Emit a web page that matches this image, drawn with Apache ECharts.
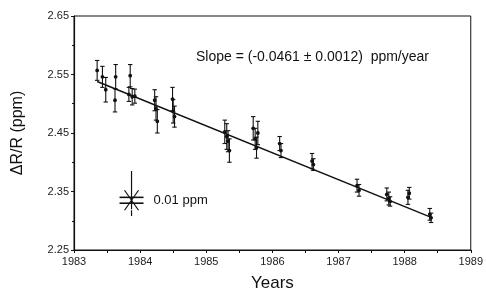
<!DOCTYPE html>
<html><head><meta charset="utf-8">
<script src="https://cdn.jsdelivr.net/npm/echarts@6/dist/echarts.min.js"></script>
<style>html,body{margin:0;padding:0;background:#fff}#c{width:486px;height:297px}</style>
</head><body><div id="c"></div>
<script>
// Measurement epochs (years), values (ppm), and 1-sigma errors (ppm)
var years  = [1983.35,1983.43,1983.48,1983.63,1983.62,1983.85,1983.83,1983.88,1983.92,
              1984.22,1984.24,1984.26,1984.49,1984.50,1984.52,
              1985.28,1985.31,1985.33,1985.35,1985.71,1985.74,1985.78,1985.76,
              1986.11,1986.13,1986.60,1986.62,
              1987.28,1987.31,1987.73,1987.76,1987.78,1988.05,1988.07,1988.38,1988.40];
var values = [2.557,2.546,2.524,2.546,2.506,2.548,2.516,2.512,2.513,
              2.506,2.492,2.470,2.508,2.487,2.478,
              2.452,2.444,2.436,2.420,2.458,2.440,2.450,2.425,
              2.432,2.420,2.402,2.396,
              2.360,2.352,2.345,2.338,2.333,2.340,2.347,2.311,2.305];
var errors = [0.017,0.018,0.021,0.021,0.020,0.019,0.012,0.014,0.012,
              0.018,0.020,0.020,0.020,0.020,0.018,
              0.020,0.022,0.018,0.020,0.020,0.018,0.020,0.018,
              0.012,0.012,0.013,0.010,
              0.011,0.010,0.011,0.011,0.008,0.012,0.010,0.010,0.008];
// Fitted line endpoints
var fitYears  = [1983.35, 1988.42];
var fitValues = [2.538, 2.305];
// Axis ticks
var xTicks = [1983,1984,1985,1986,1987,1988,1989];
var yTicks = [2.25,2.35,2.45,2.55,2.65];
// Scale-bar annotation (0.01 ppm)
var scaleBarYear = 1983.87, scaleBarValue = 2.335, scaleBarSize = 0.01;
var slopeText = 'Slope = (-0.0461 \u00b1 0.0012)  ppm/year';
var scaleText = '0.01 ppm';

var chart = echarts.init(document.getElementById('c'), null, {renderer:'canvas'});
var font = 'Liberation Sans, Arial, Helvetica, sans-serif';

var errData = years.map(function(y,i){return [y, values[i], errors[i]];});
var fitData = fitYears.map(function(y,i){return [y, fitValues[i]];});

chart.setOption({
  animation:false,
  backgroundColor:'#fff',
  grid:{left:74,right:14,top:16,bottom:45,show:true,borderColor:'#111',borderWidth:1,backgroundColor:'transparent'},
  xAxis:{type:'value',min:xTicks[0],max:xTicks[xTicks.length-1],interval:1,
    name:'Years',nameLocation:'middle',nameGap:25,
    nameTextStyle:{fontFamily:font,fontSize:17,color:'#111'},
    axisLine:{show:true,lineStyle:{color:'#111',width:1.2}},
    axisTick:{show:true,inside:false,length:3,lineStyle:{color:'#111'}},
    minorTick:{show:true,splitNumber:2,length:3,lineStyle:{color:'#111'}},
    splitLine:{show:false},
    axisLabel:{fontFamily:font,fontSize:11,color:'#222',margin:6,formatter:function(v){return String(v);}}},
  yAxis:{type:'value',min:yTicks[0],max:yTicks[yTicks.length-1],interval:0.1,
    name:'\u0394R/R (ppm)',nameLocation:'middle',nameGap:48,nameRotate:90,
    nameTextStyle:{fontFamily:font,fontSize:16,color:'#111'},
    axisLine:{show:true,lineStyle:{color:'#111',width:1.2}},
    axisTick:{show:true,inside:false,length:3,lineStyle:{color:'#111'}},
    minorTick:{show:true,splitNumber:2,length:2,lineStyle:{color:'#111'}},
    splitLine:{show:false},
    axisLabel:{fontFamily:font,fontSize:11,color:'#222',margin:5,formatter:function(v){return v.toFixed(2);}}},
  series:[
    {type:'line',data:fitData,symbol:'none',lineStyle:{color:'#111',width:1.4},z:2},
    {type:'custom',data:errData,z:3,
      renderItem:function(params,api){
        var x=api.value(0),y=api.value(1),e=api.value(2);
        var c=api.coord([x,y]),top=api.coord([x,y+e]),bot=api.coord([x,y-e]);
        var w=2.2;
        var st={stroke:'#111',lineWidth:1.1};
        return {type:'group',children:[
          {type:'line',shape:{x1:c[0],y1:top[1],x2:c[0],y2:bot[1]},style:st},
          {type:'line',shape:{x1:c[0]-w,y1:top[1],x2:c[0]+w,y2:top[1]},style:st},
          {type:'line',shape:{x1:c[0]-w,y1:bot[1],x2:c[0]+w,y2:bot[1]},style:st},
          {type:'circle',shape:{cx:c[0],cy:c[1],r:1.9},style:{fill:'#111'}}
        ]};
      }},
    {type:'custom',data:[[scaleBarYear,scaleBarValue,scaleBarSize]],z:3,
      renderItem:function(params,api){
        var x=api.value(0),y=api.value(1),s=api.value(2);
        var c=api.coord([x,y]);
        var up=api.coord([x,y+s/2]),dn=api.coord([x,y-s/2]);
        var top=api.coord([x,y+5*s]),b1=api.coord([x,y-1.7*s]),b2=api.coord([x,y-2.7*s]);
        var st={stroke:'#111',lineWidth:1.2};
        var hw=12;
        return {type:'group',children:[
          {type:'line',shape:{x1:c[0],y1:top[1],x2:c[0],y2:c[1]+9},style:st},
          {type:'line',shape:{x1:c[0],y1:b1[1],x2:c[0],y2:b2[1]},style:st},
          {type:'line',shape:{x1:c[0]-hw,y1:up[1],x2:c[0]+hw,y2:up[1]},style:{stroke:'#111',lineWidth:1.6}},
          {type:'line',shape:{x1:c[0]-hw,y1:dn[1],x2:c[0]+hw,y2:dn[1]},style:{stroke:'#111',lineWidth:1.6}},
          {type:'line',shape:{x1:c[0]-7,y1:c[1]-10,x2:c[0]+7,y2:c[1]+10},style:st},
          {type:'line',shape:{x1:c[0]+7,y1:c[1]-10,x2:c[0]-7,y2:c[1]+10},style:st},
          {type:'text',style:{x:c[0]+22,y:c[1],text:scaleText,fill:'#111',font:'13px '+font,textVerticalAlign:'middle',verticalAlign:'middle'}}
        ]};
      }}
  ],
  graphic:[
    {type:'text',left:196,top:50,style:{text:slopeText,fill:'#111',font:'14px '+font}}
  ]
});
</script>
</body></html>
